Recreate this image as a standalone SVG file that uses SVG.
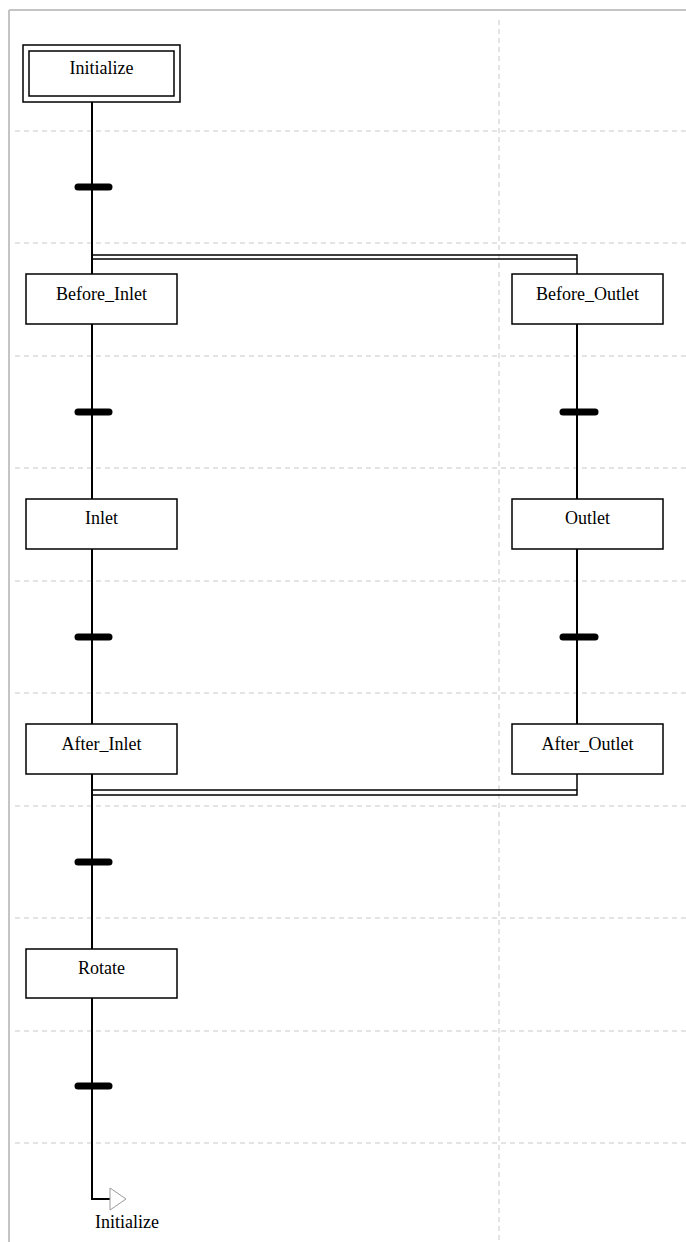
<svg xmlns="http://www.w3.org/2000/svg" width="686" height="1242" viewBox="0 0 686 1242">
<style>
.frame{stroke:#c4c4c4;stroke-width:2;fill:none}
.grid{stroke:#c8c8c8;stroke-width:1;stroke-dasharray:5 4;fill:none}
.box{fill:#fff;stroke:#000;stroke-width:1.5}
.lbl{font-family:"Liberation Serif","Times New Roman",serif;font-size:18px;fill:#000;text-anchor:middle}
.wire{stroke:#000;stroke-width:2;fill:none}
.dbl{stroke:#000;stroke-width:1.5;fill:none}
.bar{stroke:#000;stroke-width:7;stroke-linecap:round}
</style>
<rect width="686" height="1242" fill="#fff"/>
<g id="grid">
<line class="frame" x1="9" y1="10" x2="686" y2="10"/>
<line class="frame" x1="9" y1="10" x2="9" y2="1242"/>
<line class="grid" x1="499" y1="20" x2="499" y2="1242"/>
<line class="grid" x1="15" y1="131" x2="686" y2="131"/>
<line class="grid" x1="15" y1="243" x2="686" y2="243"/>
<line class="grid" x1="15" y1="356" x2="686" y2="356"/>
<line class="grid" x1="15" y1="468" x2="686" y2="468"/>
<line class="grid" x1="15" y1="581" x2="686" y2="581"/>
<line class="grid" x1="15" y1="693" x2="686" y2="693"/>
<line class="grid" x1="15" y1="806" x2="686" y2="806"/>
<line class="grid" x1="15" y1="918" x2="686" y2="918"/>
<line class="grid" x1="15" y1="1031" x2="686" y2="1031"/>
<line class="grid" x1="15" y1="1143" x2="686" y2="1143"/>
</g>
<g id="connectors">
<line class="wire" x1="92" y1="102" x2="92" y2="275"/>
<line class="wire" x1="92" y1="324" x2="92" y2="499"/>
<line class="wire" x1="92" y1="549" x2="92" y2="724"/>
<line class="wire" x1="92" y1="774" x2="92" y2="949"/>
<line class="wire" x1="92" y1="998" x2="92" y2="1199"/>
<line class="wire" x1="91" y1="1199" x2="110" y2="1199"/>
<polyline class="dbl" points="92,255 577,255 577,274"/>
<line class="dbl" x1="92" y1="259" x2="577" y2="259"/>
<line class="wire" x1="577" y1="324" x2="577" y2="499"/>
<line class="wire" x1="577" y1="549" x2="577" y2="724"/>
<polyline class="dbl" points="577,774 577,795 92,795"/>
<line class="dbl" x1="92" y1="790" x2="577" y2="790"/>
<line class="bar" x1="78" y1="187" x2="109" y2="187"/>
<line class="bar" x1="78" y1="412" x2="109" y2="412"/>
<line class="bar" x1="78" y1="637" x2="109" y2="637"/>
<line class="bar" x1="78" y1="862" x2="109" y2="862"/>
<line class="bar" x1="78" y1="1086" x2="109" y2="1086"/>
<line class="bar" x1="563" y1="412" x2="595" y2="412"/>
<line class="bar" x1="563" y1="637" x2="595" y2="637"/>
<polygon points="110,1188 126,1199 110,1210" fill="#fff" stroke="#999" stroke-width="1"/>
</g>
<g id="initialize">
<rect class="box" x="23" y="45" width="157" height="57"/>
<rect class="box" x="29" y="51" width="145" height="45"/>
<text class="lbl" x="101.5" y="74">Initialize</text>
</g>
<g id="before_inlet">
<rect class="box" x="26" y="274" width="151" height="50"/>
<text class="lbl" x="101.5" y="300">Before_Inlet</text>
</g>
<g id="inlet">
<rect class="box" x="26" y="499" width="151" height="50"/>
<text class="lbl" x="101.5" y="524">Inlet</text>
</g>
<g id="after_inlet">
<rect class="box" x="26" y="724" width="151" height="50"/>
<text class="lbl" x="101.5" y="750">After_Inlet</text>
</g>
<g id="rotate">
<rect class="box" x="26" y="949" width="151" height="49"/>
<text class="lbl" x="101.5" y="974">Rotate</text>
</g>
<g id="before_outlet">
<rect class="box" x="512" y="274" width="151" height="50"/>
<text class="lbl" x="587.5" y="300">Before_Outlet</text>
</g>
<g id="outlet">
<rect class="box" x="512" y="499" width="151" height="50"/>
<text class="lbl" x="587.5" y="524">Outlet</text>
</g>
<g id="after_outlet">
<rect class="box" x="512" y="724" width="151" height="50"/>
<text class="lbl" x="587.5" y="750">After_Outlet</text>
</g>
<g id="jump_initialize">
<text class="lbl" x="127" y="1228">Initialize</text>
</g>
</svg>
